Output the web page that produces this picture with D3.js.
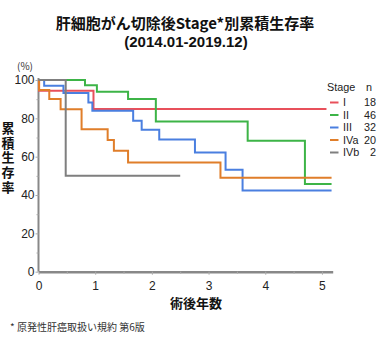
<!DOCTYPE html>
<html>
<head>
<meta charset="utf-8">
<script src="https://cdn.jsdelivr.net/npm/d3@7"></script>
<style>
  body { margin: 0; background: #fff; }
  svg { font-family: "Noto Sans CJK JP", "Noto Sans", sans-serif; }
</style>
</head>
<body>
<div class="survival-plot"></div>
<script>

// stage labels and patient counts
const stages = ["I", "II", "III", "IVa", "IVb"];
const counts = [18, 46, 32, 20, 2];

// Kaplan-Meier steps: time (years) of each step and survival (%) after it
const timesI = [0, 0.01, 0.97];
const survI = [100, 94.4, 84.9];
const timesII = [0, 0.82, 1.03, 1.58, 2.07, 3.69, 4.70];
const survII = [100, 97.2, 93.9, 90.1, 78.3, 68.3, 45.7];
const timesIII = [0, 0.10, 0.44, 0.88, 0.95, 1.67, 1.82, 2.13, 2.76, 3.30, 3.60];
const survIII = [100, 97.0, 93.2, 88.3, 84.0, 78.8, 74.0, 68.9, 62.2, 53.2, 42.4];
const timesIVa = [0, 0.01, 0.19, 0.39, 0.76, 1.22, 1.33, 1.58, 3.21];
const survIVa = [100, 94.8, 90.1, 84.7, 74.3, 68.7, 63.1, 57.0, 49.0];
const timesIVb = [0, 0.48];
const survIVb = [100, 50];
// last follow-up time of each curve
const endTimes = [5.08, 5.17, 5.17, 5.17, 2.50];

const xTicks = [0, 1, 2, 3, 4, 5];
const yTicks = [0, 20, 40, 60, 80, 100];

const width = 380;
const height = 337;
const colors = ["#e8505b", "#3db447", "#4a7fe0", "#e07e2a", "#7f7f7f"];

const svg = d3.select('.survival-plot')
  .append('svg')
  .attr('width', width)
  .attr('height', height);

const x = d3.scaleLinear().domain([0, 5.19]).range([38.5, 332.7]);
const y = d3.scaleLinear().domain([0, 100]).range([271.7, 80]);

// title
svg.append('text')
  .attr('x', 185).attr('y', 28.5)
  .attr('text-anchor', 'middle')
  .attr('font-size', 15).attr('font-weight', 'bold')
  .attr('fill', '#111')
  .text('肝細胞がん切除後Stage*別累積生存率');
svg.append('text')
  .attr('x', 186).attr('y', 46.5)
  .attr('text-anchor', 'middle')
  .attr('font-family', 'Liberation Sans, Arial, sans-serif')
  .attr('font-size', 15).attr('font-weight', 'bold')
  .attr('fill', '#111')
  .text('(2014.01-2019.12)');

// axes
const xAxis = svg.append('g')
  .attr('transform', 'translate(0,' + y(0) + ')')
  .call(d3.axisBottom(x).tickValues(xTicks).tickSize(3).tickSizeOuter(0).tickFormat(d3.format('d')));
svg.append('g')
  .attr('transform', 'translate(0,' + y(0) + ')')
  .call(d3.axisBottom(x).tickValues([0.5, 1.5, 2.5, 3.5, 4.5]).tickSize(2).tickSizeOuter(0).tickFormat(''))
  .select('.domain').remove();
xAxis.select('.domain').attr('stroke', '#888').attr('stroke-width', 2.5);
xAxis.selectAll('.tick text')
  .attr('font-size', 12).attr('fill', '#222')
  .attr('font-family', 'Liberation Sans, Arial, sans-serif')
  .attr('dy', '1.0em');

const yAxis = svg.append('g')
  .attr('transform', 'translate(' + x(0) + ',0)')
  .call(d3.axisLeft(y).tickValues(yTicks).tickSize(3).tickSizeOuter(0));
svg.append('g')
  .attr('transform', 'translate(' + x(0) + ',0)')
  .call(d3.axisLeft(y).tickValues([10, 30, 50, 70, 90]).tickSize(2).tickSizeOuter(0).tickFormat(''))
  .select('.domain').remove();
yAxis.select('.domain').attr('stroke', '#888').attr('stroke-width', 2).attr('d', 'M0,' + (y(100) - 2) + 'V' + y(0));
yAxis.selectAll('.tick text')
  .attr('font-size', 12).attr('fill', '#222')
  .attr('font-family', 'Liberation Sans, Arial, sans-serif')
  .attr('x', -4);
svg.selectAll('.tick line').attr('stroke', '#aaa');

svg.append('text')
  .attr('x', 25).attr('y', 70)
  .attr('text-anchor', 'middle')
  .attr('font-size', 10).attr('fill', '#333')
  .text('(%)');

// vertical y label
svg.append('text')
  .attr('x', 8).attr('y', 121.5)
  .style('writing-mode', 'vertical-rl')
  .attr('letter-spacing', 1.7)
  .attr('font-size', 13).attr('font-weight', 'bold')
  .attr('fill', '#111')
  .text('累積生存率');

svg.append('text')
  .attr('x', 196).attr('y', 308)
  .attr('text-anchor', 'middle')
  .attr('font-size', 13).attr('font-weight', 'bold')
  .attr('fill', '#111')
  .text('術後年数');

svg.append('text')
  .attr('x', 10).attr('y', 331)
  .attr('font-size', 10).attr('fill', '#333')
  .text('* 原発性肝癌取扱い規約 第6版');

// curves
const series = [
  [timesI, survI],
  [timesII, survII],
  [timesIII, survIII],
  [timesIVa, survIVa],
  [timesIVb, survIVb]
];

const line = d3.line()
  .x(d => x(d[0]))
  .y(d => y(d[1]))
  .curve(d3.curveStepAfter);

svg.selectAll('.km')
  .data(series)
  .enter()
  .append('path')
  .attr('class', 'km')
  .attr('fill', 'none')
  .attr('stroke', (d, i) => colors[i])
  .attr('stroke-width', 2)
  .attr('d', (d, i) => {
    const pts = d[0].map((t, j) => [t, d[1][j]]);
    pts.push([endTimes[i], d[1][d[1].length - 1]]);
    return line(pts);
  });

// legend
const legend = svg.append('g')
  .attr('font-family', 'Liberation Sans, Arial, sans-serif')
  .attr('font-size', 10.8)
  .attr('fill', '#222');
legend.append('text')
  .attr('x', 327).attr('y', 91)
  .text('Stage');
legend.append('text')
  .attr('x', 366).attr('y', 91)
  .text('n');

const rows = legend.selectAll('.row')
  .data(stages)
  .enter()
  .append('g')
  .attr('class', 'row')
  .attr('transform', (d, i) => 'translate(0,' + (102.5 + i * 12.5) + ')');
rows.append('line')
  .attr('x1', 330).attr('x2', 338.5)
  .attr('stroke', (d, i) => colors[i])
  .attr('stroke-width', 2);
rows.append('text')
  .attr('x', 343).attr('dy', '0.35em')
  .text(d => d);
rows.append('text')
  .attr('x', 376).attr('dy', '0.35em')
  .attr('text-anchor', 'end')
  .text((d, i) => counts[i]);

</script>
</body>
</html>
